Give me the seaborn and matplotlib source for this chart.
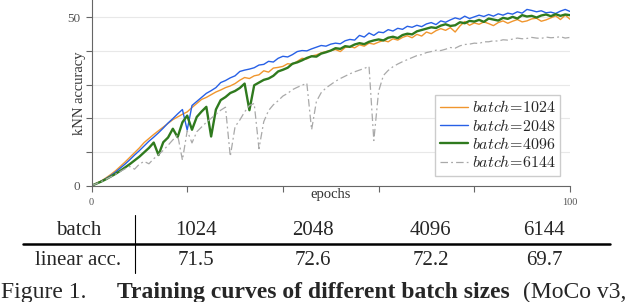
import matplotlib
matplotlib.use('Agg')
import pandas as pd
import matplotlib.pyplot as plt
import seaborn as sns
from matplotlib.lines import Line2D

# kNN accuracy per epoch
epochs = list(range(101))

acc_1024 = [0, 0.7, 1.4, 2.3, 3.3, 4.4, 5.7, 7.0, 8.4, 9.8,
            11.2, 12.8, 14.0, 15.2, 16.3, 17.4, 18.5, 19.6, 20.4, 21.2,
            21.9, 23.2, 24.4, 25.6, 26.2, 27.0, 27.8, 28.4, 29.1, 29.6,
            30.3, 31.3, 32.1, 31.8, 32.6, 32.9, 34.1, 33.7, 34.9, 35.1,
            35.4, 36.2, 36.0, 36.9, 37.8, 37.6, 38.5, 38.8, 39.4, 39.8,
            40.1, 40.4, 39.8, 41.0, 41.3, 40.9, 41.8, 41.4, 42.3, 42.0,
            42.6, 43.1, 42.7, 43.6, 43.2, 44.0, 44.5, 43.9, 44.9, 44.4,
            45.6, 45.1, 46.0, 46.6, 46.1, 46.9, 45.6, 47.4, 48.7, 47.6,
            48.3, 47.9, 48.6, 48.1, 47.5, 48.4, 48.9, 48.2, 48.8, 49.3,
            48.6, 48.9, 49.5, 49.7, 48.8, 49.2, 49.8, 50.4, 49.3, 50.6,
            49.4]

acc_2048 = [0, 0.6, 1.3, 2.1, 3.0, 4.0, 5.2, 6.4, 7.7, 9.1,
            10.4, 11.8, 13.2, 14.4, 15.7, 17.1, 18.6, 19.9, 21.3, 22.6,
            16.5, 23.8, 25.0, 26.2, 27.4, 28.2, 29.1, 30.6, 31.2, 32.0,
            32.6, 33.9, 34.3, 34.6, 35.0, 35.8, 36.0, 36.9, 36.7, 37.8,
            38.4, 38.2, 38.9, 39.8, 40.1, 40.0, 40.6, 41.1, 41.6, 41.4,
            42.0, 42.3, 42.1, 43.0, 43.4, 43.2, 44.6, 44.1, 45.3, 44.6,
            45.6, 45.4, 46.3, 45.9, 46.7, 46.4, 47.3, 47.0, 47.6, 47.2,
            48.0, 48.4, 47.8, 48.9, 48.5, 49.2, 49.8, 49.4, 50.3, 49.6,
            50.1, 50.6, 50.2, 50.8, 50.3, 51.0, 50.6, 51.2, 50.9, 51.6,
            51.2, 52.3, 52.0, 51.6, 51.9, 51.3, 51.5, 51.1, 51.8, 52.3,
            51.7]

acc_4096 = [0, 0.6, 1.2, 1.9, 2.7, 3.5, 4.4, 5.4, 6.4, 7.5,
            8.6, 9.9, 11.2, 12.8, 9.1, 12.9, 14.3, 16.9, 14.4, 18.8,
            20.8, 16.6, 20.4, 22.0, 23.4, 14.6, 22.6, 25.4, 26.3, 27.5,
            28.1, 29.0, 30.3, 22.4, 29.8, 30.6, 31.4, 31.8, 32.6, 33.9,
            34.4, 35.0, 36.2, 36.6, 37.2, 37.9, 38.4, 38.3, 39.2, 39.6,
            40.1, 40.8, 40.6, 41.4, 41.2, 41.9, 42.3, 42.0, 42.7, 43.1,
            43.4, 43.1, 43.9, 44.2, 43.8, 44.7, 45.1, 44.9, 45.8, 46.2,
            46.6, 47.0, 46.8, 47.5, 47.9, 47.4, 47.6, 48.5, 48.2, 48.9,
            48.7, 49.2, 48.6, 49.6, 49.3, 49.0, 49.8, 49.5, 50.1, 49.6,
            50.6, 50.2, 50.4, 49.9, 50.5, 50.8, 50.3, 50.9, 50.4, 50.8,
            50.6]

acc_6144 = [0, 0.6, 1.2, 1.9, 2.6, 3.4, 4.2, 5.0, 5.7, 4.9,
            6.4, 7.2, 6.5, 8.0, 9.2, 10.5, 12.0, 13.6, 15.1, 7.6,
            16.3, 12.7, 16.0, 17.4, 18.8, 20.0, 21.2, 22.4, 23.3, 8.7,
            17.5, 19.5, 21.9, 23.8, 24.4, 11.0, 19.0, 22.3, 24.0, 25.2,
            26.6, 27.4, 28.5, 29.2, 29.8, 30.4, 16.6, 25.0, 27.6, 29.0,
            30.0, 31.0, 31.8, 32.5, 33.2, 33.8, 34.3, 34.8, 35.4, 13.4,
            28.0, 32.7, 34.2, 35.3, 36.1, 36.8, 37.4, 38.0, 38.6, 38.9,
            39.5, 39.8, 40.2, 40.1, 40.5, 41.0, 40.8, 41.5, 41.9, 42.0,
            42.3, 42.2, 42.7, 42.7, 43.0, 42.9, 43.3, 43.2, 43.5, 43.8,
            43.6, 43.7, 44.0, 43.8, 43.7, 44.1, 43.9, 44.0, 44.2, 43.8,
            44.0]

batch_sizes = ['1024', '2048', '4096', '6144']
linear_acc = ['71.5', '72.6', '72.2', '69.7']

curves = pd.DataFrame({'epoch': epochs, '1024': acc_1024, '2048': acc_2048,
                       '4096': acc_4096, '6144': acc_6144})

colors = {'1024': '#f0962e', '2048': '#2760e6', '4096': '#2f7a1e', '6144': '#a9a9a9'}
widths = {'1024': 1.0, '2048': 1.0, '4096': 1.7, '6144': 0.9}

sns.set_theme(style='white')
plt.rcParams['font.family'] = ['Liberation Serif', 'DejaVu Serif']
plt.rcParams['mathtext.fontset'] = 'cm'

W, H = 640, 302
fig = plt.figure(figsize=(W / 100, H / 100), dpi=100)
ax = fig.add_axes([91.5 / W, 1 - 185.7 / H, (570 - 91.5) / W, 185.7 / H])

for b in batch_sizes:
    sns.lineplot(data=curves, x='epoch', y=b, ax=ax, color=colors[b],
                 lw=widths[b], label=r'$batch\!=\!%s$' % b)
ax.lines[-1].set_linestyle((0, (6, 2.5, 1.5, 2.5)))

ax.set_xlim(0, 100)
ax.set_ylim(0, 55.1)
ax.set_xticks(range(0, 101, 20))
ax.set_xticklabels(['0', '', '', '', '', '100'])
ax.set_yticks(range(0, 51, 10))
ax.set_yticklabels(['0', '', '', '', '', '50'])
ax.yaxis.grid(True, color='#e8e8e8', lw=0.8)
ax.xaxis.grid(False)

sns.despine(ax=ax)
for s in ['left', 'bottom']:
    ax.spines[s].set_color('#666666')
    ax.spines[s].set_linewidth(0.8)
ax.tick_params(bottom=True, left=True, direction='out', length=4, width=0.8,
               color='#666666', labelcolor='#555555')
ax.tick_params(axis='x', labelsize=7.5, pad=5)
ax.tick_params(axis='y', labelsize=9.5, pad=4)

ax.set_xlabel('epochs', fontsize=10.5, color='#333333')
ax.xaxis.set_label_coords(0.5, -0.015)
ax.set_ylabel('kNN accuracy', fontsize=10.5, color='#333333')
ax.yaxis.set_label_coords(-0.012, 0.5)

ax.legend(loc='lower right', fontsize=11.5, frameon=True, fancybox=False,
          edgecolor='#cccccc', framealpha=1, handlelength=1.75, handletextpad=0.25,
          labelspacing=0.15, borderaxespad=0.6, borderpad=0.3)

# table under the chart
def fx(px):
    return px / W

def fy(py):
    return 1 - py / H

col_x = [195.5, 313.3, 430.8, 544.3]
fig.text(fx(78.5), fy(235), 'batch', ha='center', va='baseline', fontsize=15)
fig.text(fx(78.5), fy(265), 'linear acc.', ha='center', va='baseline', fontsize=15)
for cx, b, a in zip(col_x, batch_sizes, linear_acc):
    fig.text(fx(cx), fy(235), b, ha='center', va='baseline', fontsize=15)
    fig.text(fx(cx), fy(265), a, ha='center', va='baseline', fontsize=15)
fig.add_artist(Line2D([fx(23.3), fx(610)], [fy(244), fy(244)], color='black', lw=1.8))
fig.add_artist(Line2D([fx(135), fx(135)], [fy(215), fy(273.3)], color='black', lw=0.8))

# caption
fig.text(fx(1), fy(298.3), 'Figure 1.', ha='left', va='baseline', fontsize=17)
fig.text(fx(117), fy(298.3), 'Training curves of different batch sizes',
         ha='left', va='baseline', fontsize=17, fontweight='bold')
fig.text(fx(523), fy(298.3), '(MoCo v3,', ha='left', va='baseline', fontsize=17)

fig.savefig('out.png', dpi=100)
